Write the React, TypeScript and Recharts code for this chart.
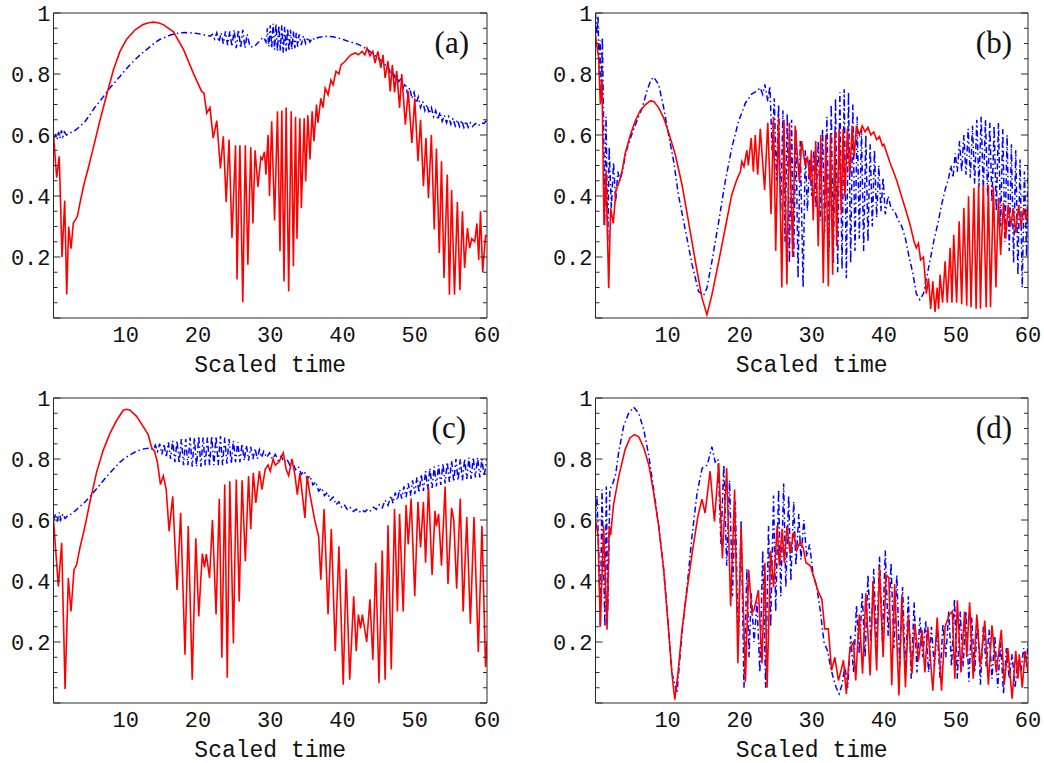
import { LineChart, Line, XAxis, YAxis } from 'recharts';

type Pt = [number, number];

// axis ticks
const xLabelTicks = [10, 20, 30, 40, 50, 60];
const xFrameTicks = [0, 2, 4, 6, 8, 10, 12, 14, 16, 18, 20, 22, 24, 26, 28, 30, 32, 34, 36, 38, 40, 42, 44, 46, 48, 50, 52, 54, 56, 58, 60];
const yLabelTicks = [0.2, 0.4, 0.6, 0.8, 1];
const yFrameTicks = [0, 0.05, 0.1, 0.15, 0.2, 0.25, 0.3, 0.35, 0.4, 0.45, 0.5, 0.55, 0.6, 0.65, 0.7, 0.75, 0.8, 0.85, 0.9, 0.95, 1];

// panel (a)
const redA: Pt[] = [
  [0, 0.6], [0.44, 0.46], [0.8, 0.53], [1.18, 0.2], [1.55, 0.385], [1.83, 0.077], [2.1, 0.3], [2.42, 0.227], [2.74, 0.311],
  [3.3, 0.333], [3.76, 0.388], [4.2, 0.437], [4.8, 0.49], [5.5, 0.557], [6.4, 0.645], [7.36, 0.732], [8.3, 0.814], [9.2, 0.874],
  [10.1, 0.913], [11.3, 0.945], [12.4, 0.962], [13.2, 0.968], [13.8, 0.97], [14.5, 0.968], [15.2, 0.962], [16.6, 0.938],
  [18.0, 0.88], [19.35, 0.803], [20.5, 0.743], [20.83, 0.738], [21.2, 0.672], [21.66, 0.69], [22.1, 0.59], [22.6, 0.647],
  [23.1, 0.49], [23.5, 0.596], [23.9, 0.38], [24.3, 0.585], [24.7, 0.262], [25.2, 0.566], [25.4, 0.126], [25.8, 0.566],
  [26.2, 0.052], [26.55, 0.566], [26.9, 0.175], [27.3, 0.56], [27.6, 0.31], [27.9, 0.55], [28.3, 0.43], [28.7, 0.527],
  [28.9, 0.52], [29.2, 0.545], [29.4, 0.47], [29.7, 0.6], [29.9, 0.4], [30.2, 0.645], [30.6, 0.32], [31.0, 0.678],
  [31.35, 0.219], [31.6, 0.68], [31.9, 0.12], [32.2, 0.69], [32.55, 0.087], [32.9, 0.678], [33.2, 0.17], [33.5, 0.66],
  [33.7, 0.26], [34.1, 0.655], [34.3, 0.36], [34.7, 0.655], [34.9, 0.448], [35.2, 0.665], [35.5, 0.52], [35.8, 0.678],
  [36.05, 0.58], [36.4, 0.7], [36.6, 0.64], [37.0, 0.72], [37.3, 0.69], [37.6, 0.754], [38.0, 0.732], [38.4, 0.78],
  [38.7, 0.765], [39.1, 0.809], [39.5, 0.8], [39.8, 0.83], [40.3, 0.84], [40.8, 0.854], [41.2, 0.863], [41.8, 0.869],
  [42.2, 0.863], [42.7, 0.874], [43.1, 0.863], [43.4, 0.885], [43.8, 0.86], [44.2, 0.874], [44.5, 0.836], [44.9, 0.874],
  [45.3, 0.82], [45.6, 0.863], [45.9, 0.787], [46.3, 0.842], [46.6, 0.743], [46.9, 0.83], [47.2, 0.74], [47.5, 0.81],
  [47.9, 0.689], [48.2, 0.8], [48.7, 0.634], [49.1, 0.743], [49.6, 0.574], [50.0, 0.72], [50.45, 0.514], [50.8, 0.65],
  [51.2, 0.432], [51.55, 0.59], [51.9, 0.393], [52.3, 0.6], [52.7, 0.29], [53.0, 0.556], [53.4, 0.213], [53.7, 0.514],
  [54.05, 0.131], [54.5, 0.47], [54.8, 0.076], [55.1, 0.42], [55.5, 0.076], [55.9, 0.38], [56.25, 0.091], [56.6, 0.35],
  [56.9, 0.164], [57.3, 0.295], [57.6, 0.229], [57.9, 0.26], [58.3, 0.25], [58.6, 0.31], [58.85, 0.19], [59.1, 0.35],
  [59.4, 0.15], [59.8, 0.27], [60, 0.27],
];
const blueA: Pt[] = [
  [0, 0.59], [0.3, 0.6], [0.5, 0.585], [0.7, 0.61], [0.9, 0.59], [1.1, 0.615], [1.3, 0.595], [1.5, 0.61], [1.8, 0.6],
  [2.28, 0.607], [3.0, 0.615], [3.67, 0.628], [4.4, 0.645], [5.05, 0.667], [5.7, 0.69], [6.4, 0.71], [7.1, 0.732],
  [7.8, 0.754], [8.5, 0.773], [9.2, 0.792], [9.9, 0.812], [10.6, 0.83], [11.3, 0.847], [12.0, 0.863], [12.7, 0.877],
  [13.4, 0.89], [14.0, 0.902], [14.7, 0.913], [15.4, 0.92], [16.1, 0.927], [16.8, 0.932], [17.5, 0.935], [18.2, 0.936],
  [18.9, 0.935], [19.6, 0.934], [20.3, 0.931], [21.0, 0.928], [21.7, 0.924], [22.0, 0.93], [22.3, 0.915], [22.6, 0.935],
  [22.9, 0.905], [23.2, 0.935], [23.5, 0.9], [23.8, 0.94], [24.1, 0.895], [24.4, 0.94], [24.7, 0.89], [25.0, 0.945],
  [25.3, 0.885], [25.6, 0.945], [25.9, 0.885], [26.2, 0.945], [26.5, 0.885], [26.8, 0.93], [27.2, 0.89], [27.6, 0.888],
  [28.0, 0.895], [28.4, 0.905], [28.8, 0.915], [29.1, 0.92], [29.4, 0.905], [29.6, 0.95], [29.8, 0.89], [30.0, 0.96],
  [30.2, 0.885], [30.4, 0.965], [30.6, 0.88], [30.8, 0.965], [31.0, 0.875], [31.2, 0.96], [31.4, 0.875], [31.6, 0.96],
  [31.8, 0.87], [32.0, 0.955], [32.2, 0.875], [32.4, 0.95], [32.6, 0.875], [32.8, 0.945], [33.0, 0.88], [33.2, 0.94],
  [33.4, 0.885], [33.6, 0.935], [33.8, 0.89], [34.0, 0.93], [34.3, 0.895], [34.6, 0.925], [34.9, 0.9], [35.2, 0.92],
  [35.5, 0.905], [35.8, 0.918], [36.2, 0.912], [36.6, 0.92], [37.3, 0.922], [38.0, 0.924], [38.7, 0.922], [39.4, 0.918],
  [40.1, 0.913], [40.8, 0.907], [41.5, 0.902], [42.1, 0.898], [42.8, 0.89], [43.5, 0.88], [44.2, 0.866], [44.9, 0.852],
  [45.3, 0.845], [45.6, 0.84], [45.9, 0.83], [46.3, 0.825], [46.6, 0.805], [46.9, 0.815], [47.2, 0.79], [47.5, 0.8],
  [47.8, 0.775], [48.1, 0.785], [48.4, 0.755], [48.7, 0.77], [49.0, 0.735], [49.3, 0.755], [49.6, 0.72], [49.9, 0.74],
  [50.2, 0.705], [50.5, 0.725], [50.8, 0.69], [51.1, 0.71], [51.4, 0.68], [51.7, 0.7], [52.0, 0.67], [52.3, 0.69],
  [52.6, 0.66], [52.9, 0.68], [53.2, 0.65], [53.5, 0.675], [53.8, 0.645], [54.1, 0.665], [54.4, 0.64], [54.7, 0.66],
  [55.0, 0.635], [55.3, 0.655], [55.6, 0.63], [55.9, 0.65], [56.2, 0.628], [56.5, 0.648], [56.8, 0.625], [57.1, 0.645],
  [57.4, 0.625], [57.7, 0.64], [58.0, 0.628], [58.4, 0.638], [58.8, 0.63], [59.2, 0.64], [59.6, 0.638], [60, 0.65],
];

// panel (b)
const redB: Pt[] = [
  [0, 0.93], [0.07, 0.913], [0.44, 0.852], [0.67, 0.7], [0.9, 0.78], [1.18, 0.306], [1.46, 0.481], [1.83, 0.098],
  [2.1, 0.36], [2.47, 0.31], [2.84, 0.42], [3.2, 0.44], [3.67, 0.48], [4.13, 0.54], [4.83, 0.6], [5.5, 0.645],
  [6.2, 0.68], [6.9, 0.699], [7.6, 0.712], [8.1, 0.71], [8.77, 0.689], [9.46, 0.656], [10.15, 0.607], [11.07, 0.536],
  [12.0, 0.437], [12.9, 0.317], [13.85, 0.186], [14.77, 0.066], [15.46, 0.011], [16.15, 0.076], [17.1, 0.186],
  [18.0, 0.295], [18.9, 0.404], [19.6, 0.453], [20.1, 0.48], [20.3, 0.513], [20.6, 0.496], [21.0, 0.55], [21.2, 0.5],
  [21.6, 0.59], [21.9, 0.48], [22.16, 0.6], [22.5, 0.47], [22.86, 0.62], [23.46, 0.42], [23.9, 0.64], [24.35, 0.34],
  [24.7, 0.66], [25.0, 0.22], [25.4, 0.66], [25.85, 0.1], [26.15, 0.65], [26.55, 0.11], [26.9, 0.64], [27.35, 0.2],
  [27.7, 0.63], [28.27, 0.45], [28.6, 0.58], [29.1, 0.5], [29.4, 0.53], [29.75, 0.45], [29.95, 0.55], [30.2, 0.32],
  [30.55, 0.58], [30.9, 0.235], [31.25, 0.6], [31.6, 0.115], [31.95, 0.6], [32.3, 0.104], [32.6, 0.6], [32.9, 0.142],
  [33.2, 0.61], [33.45, 0.235], [33.8, 0.62], [34.1, 0.34], [34.35, 0.62], [34.6, 0.4], [34.95, 0.62], [35.3, 0.47],
  [35.6, 0.63], [35.9, 0.53], [36.2, 0.63], [36.6, 0.6], [37.0, 0.63], [37.4, 0.61], [37.8, 0.625], [38.2, 0.6],
  [38.6, 0.61], [39.0, 0.585], [39.4, 0.595], [39.8, 0.565], [40.0, 0.57], [40.85, 0.51], [41.8, 0.45], [42.7, 0.38],
  [43.6, 0.31], [44.2, 0.25], [44.5, 0.23], [44.8, 0.245], [45.1, 0.19], [45.5, 0.2], [45.9, 0.08], [46.2, 0.13],
  [46.5, 0.03], [46.8, 0.12], [47.1, 0.02], [47.4, 0.1], [47.6, 0.03], [47.8, 0.142], [48.15, 0.05], [48.5, 0.186],
  [48.8, 0.05], [49.2, 0.23], [49.45, 0.05], [49.7, 0.273], [50.1, 0.05], [50.45, 0.317], [50.8, 0.045], [51.1, 0.361],
  [51.5, 0.04], [51.75, 0.399], [52.1, 0.035], [52.5, 0.426], [52.8, 0.03], [53.15, 0.437], [53.4, 0.03], [53.8, 0.437],
  [54.2, 0.035], [54.5, 0.437], [54.8, 0.035], [55.2, 0.43], [55.55, 0.1], [55.9, 0.394], [56.2, 0.207], [56.6, 0.377],
  [56.9, 0.26], [57.25, 0.37], [57.6, 0.3], [57.95, 0.36], [58.3, 0.28], [58.7, 0.37], [59.05, 0.3], [59.4, 0.36],
  [59.8, 0.32], [60, 0.37],
];
const blueB: Pt[] = [
  [0, 1.0], [0.2, 0.93], [0.35, 0.99], [0.5, 0.8], [0.65, 0.91], [0.8, 0.72], [0.95, 0.92], [1.1, 0.69], [1.27, 0.3],
  [1.46, 0.66], [1.7, 0.25], [1.9, 0.56], [2.2, 0.36], [2.5, 0.51], [2.8, 0.38], [3.1, 0.48], [3.4, 0.45], [3.8, 0.49],
  [4.3, 0.55], [5.0, 0.6], [5.8, 0.65], [6.5, 0.69], [7.2, 0.75], [7.7, 0.78], [8.07, 0.79], [8.77, 0.765], [9.46, 0.689],
  [10.15, 0.6], [10.85, 0.513], [11.5, 0.404], [12.5, 0.284], [13.4, 0.175], [14.3, 0.087], [15.0, 0.074], [15.46, 0.098],
  [16.15, 0.186], [17.1, 0.317], [18.0, 0.448], [18.9, 0.557], [19.85, 0.645], [20.8, 0.705], [21.7, 0.735], [22.4, 0.744],
  [22.85, 0.755], [23.2, 0.733], [23.5, 0.766], [23.9, 0.71], [24.2, 0.76], [24.5, 0.55], [24.8, 0.72], [25.1, 0.45],
  [25.4, 0.7], [25.7, 0.35], [26.0, 0.68], [26.3, 0.25], [26.6, 0.67], [26.9, 0.18], [27.2, 0.65], [27.5, 0.2],
  [27.8, 0.62], [28.1, 0.13], [28.4, 0.58], [28.8, 0.1], [29.1, 0.55], [29.4, 0.35], [29.7, 0.52], [30.0, 0.4],
  [30.3, 0.55], [30.6, 0.36], [30.9, 0.58], [31.2, 0.32], [31.5, 0.62], [31.8, 0.28], [32.1, 0.66], [32.4, 0.22],
  [32.7, 0.7], [33.0, 0.18], [33.3, 0.72], [33.6, 0.15], [33.9, 0.74], [34.2, 0.16], [34.5, 0.75], [34.8, 0.13],
  [35.1, 0.74], [35.4, 0.18], [35.7, 0.7], [36.0, 0.22], [36.3, 0.66], [36.6, 0.26], [36.9, 0.62], [37.2, 0.22],
  [37.5, 0.6], [37.8, 0.25], [38.1, 0.57], [38.4, 0.3], [38.7, 0.55], [39.0, 0.33], [39.3, 0.5], [39.6, 0.35],
  [39.9, 0.46], [40.2, 0.34], [40.6, 0.4], [41.0, 0.36], [41.5, 0.35], [42.0, 0.32], [42.5, 0.3], [43.0, 0.26],
  [43.5, 0.2], [44.0, 0.15], [44.5, 0.08], [45.0, 0.06], [45.5, 0.08], [46.0, 0.14], [46.5, 0.2], [47.0, 0.26],
  [47.5, 0.31], [48.0, 0.37], [48.5, 0.42], [49.0, 0.46], [49.3, 0.5], [49.6, 0.46], [49.9, 0.54], [50.2, 0.48],
  [50.5, 0.58], [50.8, 0.48], [51.1, 0.6], [51.4, 0.47], [51.7, 0.62], [52.0, 0.46], [52.3, 0.63], [52.6, 0.44],
  [52.9, 0.65], [53.2, 0.43], [53.5, 0.66], [53.8, 0.42], [54.1, 0.65], [54.4, 0.4], [54.7, 0.64], [55.0, 0.38],
  [55.3, 0.63], [55.6, 0.35], [55.9, 0.64], [56.2, 0.3], [56.5, 0.62], [56.8, 0.25], [57.1, 0.6], [57.4, 0.22],
  [57.7, 0.57], [58.0, 0.18], [58.3, 0.55], [58.6, 0.14], [58.9, 0.52], [59.2, 0.1], [59.5, 0.48], [59.8, 0.2], [60, 0.5],
];

// panel (c)
const redC: Pt[] = [
  [0, 0.6], [0.67, 0.382], [1.13, 0.525], [1.6, 0.046], [2.05, 0.41], [2.42, 0.3], [2.84, 0.437], [3.2, 0.453],
  [3.67, 0.51], [4.36, 0.58], [5.05, 0.66], [5.97, 0.757], [6.9, 0.83], [7.8, 0.883], [8.75, 0.927], [9.66, 0.96],
  [10.1, 0.963], [10.6, 0.96], [11.5, 0.94], [12.4, 0.907], [13.1, 0.88], [13.6, 0.836], [14.0, 0.825], [14.4, 0.787],
  [14.8, 0.716], [15.2, 0.745], [15.6, 0.7], [16.0, 0.563], [16.5, 0.678], [17.1, 0.371], [17.6, 0.624], [18.2, 0.158],
  [18.65, 0.58], [19.2, 0.076], [19.7, 0.54], [20.1, 0.284], [20.6, 0.49], [20.9, 0.445], [21.15, 0.488], [21.6, 0.41],
  [22.0, 0.6], [22.5, 0.29], [22.95, 0.67], [23.3, 0.148], [23.7, 0.716], [24.05, 0.083], [24.4, 0.727], [24.9, 0.196],
  [25.3, 0.733], [25.7, 0.333], [26.1, 0.73], [26.55, 0.465], [27.0, 0.744], [27.3, 0.57], [27.65, 0.755], [28.0, 0.656],
  [28.5, 0.76], [28.85, 0.7], [29.3, 0.766], [29.7, 0.78], [30.0, 0.76], [30.4, 0.8], [30.7, 0.78], [31.2, 0.79],
  [31.8, 0.82], [32.2, 0.766], [32.55, 0.745], [33.0, 0.8], [33.4, 0.75], [33.75, 0.683], [34.1, 0.754], [34.8, 0.607],
  [35.1, 0.745], [35.45, 0.69], [36.15, 0.6], [36.7, 0.546], [37.0, 0.404], [37.45, 0.636], [38.0, 0.29], [38.45, 0.57],
  [39.0, 0.17], [39.5, 0.514], [40.1, 0.06], [40.5, 0.44], [41.0, 0.076], [41.55, 0.35], [41.9, 0.17], [42.2, 0.29],
  [42.5, 0.245], [42.75, 0.29], [43.35, 0.2], [43.8, 0.34], [44.2, 0.142], [44.6, 0.46], [45.05, 0.065], [45.5, 0.5],
  [45.9, 0.076], [46.3, 0.583], [46.75, 0.11], [47.2, 0.636], [47.6, 0.3], [47.9, 0.62], [48.4, 0.3], [48.8, 0.65],
  [49.1, 0.52], [49.5, 0.67], [50.0, 0.35], [50.45, 0.66], [50.8, 0.51], [51.2, 0.66], [51.5, 0.46], [51.9, 0.71],
  [52.4, 0.42], [52.8, 0.63], [53.0, 0.58], [53.3, 0.62], [53.7, 0.45], [54.2, 0.71], [54.6, 0.39], [55.1, 0.64],
  [55.4, 0.6], [55.8, 0.375], [56.3, 0.67], [56.7, 0.3], [57.2, 0.61], [57.7, 0.26], [58.2, 0.61], [58.8, 0.167],
  [59.3, 0.58], [59.8, 0.118], [60, 0.2],
];
const blueC: Pt[] = [
  [0, 0.6], [0.3, 0.62], [0.5, 0.595], [0.8, 0.625], [1.0, 0.6], [1.3, 0.62], [1.6, 0.605], [2.0, 0.615], [2.3, 0.617],
  [3.0, 0.63], [3.67, 0.645], [4.4, 0.66], [5.05, 0.677], [5.7, 0.695], [6.4, 0.715], [7.1, 0.735], [7.8, 0.754],
  [8.5, 0.772], [9.2, 0.79], [9.9, 0.803], [10.6, 0.814], [11.3, 0.823], [12.0, 0.83], [12.7, 0.834], [13.4, 0.836],
  [13.8, 0.83], [14.1, 0.845], [14.4, 0.825], [14.7, 0.85], [15.0, 0.815], [15.3, 0.85], [15.6, 0.805], [15.9, 0.855],
  [16.2, 0.8], [16.5, 0.86], [16.8, 0.79], [17.1, 0.86], [17.4, 0.785], [17.7, 0.865], [18.0, 0.78], [18.3, 0.865],
  [18.6, 0.78], [18.9, 0.87], [19.2, 0.775], [19.5, 0.87], [19.8, 0.775], [20.1, 0.875], [20.4, 0.775], [20.7, 0.87],
  [21.0, 0.78], [21.3, 0.87], [21.6, 0.78], [21.9, 0.875], [22.2, 0.78], [22.5, 0.875], [22.8, 0.78], [23.1, 0.875],
  [23.4, 0.78], [23.7, 0.87], [24.0, 0.785], [24.3, 0.865], [24.6, 0.785], [24.9, 0.86], [25.2, 0.79], [25.5, 0.855],
  [25.8, 0.79], [26.1, 0.85], [26.4, 0.795], [26.7, 0.845], [27.0, 0.795], [27.3, 0.84], [27.6, 0.8], [27.9, 0.835],
  [28.2, 0.8], [28.5, 0.83], [28.8, 0.805], [29.1, 0.825], [29.5, 0.805], [29.9, 0.82], [30.3, 0.8], [30.7, 0.815],
  [31.1, 0.795], [31.5, 0.81], [31.9, 0.79], [32.3, 0.8], [32.7, 0.78], [33.1, 0.79], [33.5, 0.765], [33.9, 0.775],
  [34.3, 0.75], [34.7, 0.76], [35.1, 0.735], [35.5, 0.745], [35.9, 0.715], [36.3, 0.725], [36.7, 0.695], [37.1, 0.705],
  [37.5, 0.68], [37.9, 0.69], [38.3, 0.665], [38.7, 0.675], [39.1, 0.65], [39.5, 0.66], [39.9, 0.64], [40.3, 0.648],
  [40.7, 0.633], [41.1, 0.64], [41.5, 0.628], [41.9, 0.635], [42.3, 0.625], [42.7, 0.633], [43.1, 0.627], [43.5, 0.636],
  [43.9, 0.63], [44.3, 0.642], [44.7, 0.635], [45.1, 0.65], [45.5, 0.64], [45.9, 0.665], [46.3, 0.648], [46.7, 0.68],
  [47.0, 0.655], [47.3, 0.69], [47.6, 0.665], [47.9, 0.7], [48.2, 0.67], [48.5, 0.71], [48.8, 0.675], [49.1, 0.72],
  [49.4, 0.68], [49.7, 0.73], [50.0, 0.685], [50.3, 0.74], [50.6, 0.69], [50.9, 0.75], [51.2, 0.695], [51.5, 0.76],
  [51.8, 0.7], [52.1, 0.77], [52.4, 0.705], [52.7, 0.775], [53.0, 0.71], [53.3, 0.78], [53.6, 0.715], [53.9, 0.785],
  [54.2, 0.72], [54.5, 0.79], [54.8, 0.725], [55.1, 0.795], [55.4, 0.725], [55.7, 0.8], [56.0, 0.73], [56.3, 0.8],
  [56.6, 0.73], [56.9, 0.8], [57.2, 0.735], [57.5, 0.805], [57.8, 0.735], [58.1, 0.805], [58.4, 0.74], [58.7, 0.805],
  [59.0, 0.74], [59.3, 0.8], [59.6, 0.745], [60, 0.8],
];

// panel (d)
const redD: Pt[] = [
  [0, 0.6], [0.35, 0.55], [0.67, 0.25], [1.13, 0.58], [1.6, 0.24], [1.9, 0.58], [2.1, 0.55], [2.5, 0.65], [3.2, 0.74],
  [4.1, 0.83], [4.8, 0.87], [5.4, 0.88], [6.0, 0.873], [6.7, 0.836], [7.4, 0.78], [8.07, 0.689], [8.77, 0.579],
  [9.46, 0.437], [10.06, 0.262], [10.6, 0.098], [11.0, 0.011], [11.45, 0.098], [12.0, 0.24], [12.7, 0.371], [13.4, 0.49],
  [14.2, 0.612], [14.77, 0.668], [15.2, 0.623], [15.9, 0.76], [16.5, 0.595], [17.1, 0.787], [17.6, 0.475], [18.2, 0.77],
  [18.75, 0.317], [19.3, 0.7], [19.75, 0.13], [20.2, 0.58], [20.8, 0.07], [21.25, 0.437], [21.7, 0.295], [22.0, 0.306],
  [22.6, 0.37], [23.1, 0.13], [23.5, 0.46], [23.8, 0.05], [24.3, 0.5], [24.7, 0.38], [25.2, 0.58], [25.5, 0.45],
  [25.9, 0.57], [26.2, 0.46], [26.56, 0.58], [27.0, 0.49], [27.5, 0.56], [27.9, 0.5], [28.4, 0.53], [28.8, 0.51],
  [29.2, 0.46], [29.8, 0.45], [30.4, 0.404], [30.9, 0.365], [31.4, 0.34], [31.8, 0.243], [32.3, 0.243], [32.75, 0.107],
  [33.2, 0.15], [33.7, 0.074], [34.1, 0.11], [34.4, 0.14], [34.8, 0.03], [35.3, 0.18], [35.8, 0.2], [36.1, 0.074],
  [36.6, 0.29], [37.05, 0.096], [37.5, 0.36], [38.1, 0.09], [38.5, 0.4], [39.0, 0.107], [39.4, 0.446], [39.9, 0.15],
  [40.3, 0.42], [40.7, 0.41], [41.1, 0.058], [41.5, 0.39], [42.1, 0.025], [42.5, 0.353], [43.0, 0.052], [43.4, 0.29],
  [43.9, 0.096], [44.3, 0.26], [44.8, 0.14], [45.3, 0.24], [45.7, 0.1], [46.1, 0.25], [46.8, 0.04], [47.4, 0.28],
  [48.0, 0.04], [48.5, 0.25], [49.1, 0.29], [49.5, 0.3], [49.85, 0.08], [50.2, 0.337], [50.7, 0.1], [51.2, 0.3],
  [51.5, 0.15], [51.9, 0.33], [52.4, 0.08], [52.9, 0.29], [53.4, 0.12], [54.0, 0.27], [54.5, 0.06], [55.0, 0.255],
  [55.6, 0.1], [56.3, 0.24], [56.7, 0.06], [57.2, 0.18], [57.8, 0.014], [58.3, 0.17], [58.6, 0.08], [58.8, 0.16],
  [59.2, 0.05], [59.6, 0.17], [60, 0.1],
];
const blueD: Pt[] = [
  [0, 0.6], [0.2, 0.68], [0.45, 0.5], [0.67, 0.25], [0.9, 0.7], [1.3, 0.25], [1.5, 0.71], [1.7, 0.3], [2.0, 0.7],
  [2.4, 0.72], [2.8, 0.75], [3.2, 0.82], [3.9, 0.907], [4.6, 0.95], [5.3, 0.97], [6.0, 0.95], [6.7, 0.896], [7.4, 0.81],
  [8.07, 0.7], [8.77, 0.58], [9.46, 0.437], [10.06, 0.265], [10.6, 0.1], [11.3, 0.032], [12.0, 0.23], [12.7, 0.38],
  [13.4, 0.55], [14.1, 0.69], [14.8, 0.77], [15.5, 0.78], [16.15, 0.84], [16.6, 0.79], [17.0, 0.8], [17.4, 0.52],
  [17.8, 0.78], [18.2, 0.45], [18.6, 0.73], [19.0, 0.35], [19.4, 0.66], [19.8, 0.18], [20.2, 0.6], [20.6, 0.05],
  [21.0, 0.44], [21.3, 0.15], [21.6, 0.36], [22.0, 0.2], [22.4, 0.33], [22.8, 0.1], [23.2, 0.5], [23.6, 0.05],
  [24.0, 0.58], [24.3, 0.25], [24.7, 0.68], [25.0, 0.3], [25.4, 0.7], [25.7, 0.35], [26.1, 0.72], [26.4, 0.38],
  [26.8, 0.68], [27.1, 0.4], [27.5, 0.66], [27.8, 0.45], [28.2, 0.62], [28.5, 0.47], [28.9, 0.6], [29.3, 0.48],
  [29.7, 0.52], [30.2, 0.42], [30.7, 0.38], [31.2, 0.3], [31.7, 0.2], [32.2, 0.17], [32.6, 0.12], [33.0, 0.08],
  [33.4, 0.05], [33.8, 0.03], [34.2, 0.06], [34.6, 0.12], [35.0, 0.05], [35.4, 0.22], [35.8, 0.1], [36.2, 0.32],
  [36.6, 0.16], [37.0, 0.36], [37.4, 0.15], [37.8, 0.42], [38.2, 0.2], [38.6, 0.44], [39.0, 0.18], [39.4, 0.48],
  [39.8, 0.2], [40.2, 0.5], [40.6, 0.22], [41.0, 0.46], [41.4, 0.18], [41.8, 0.42], [42.2, 0.12], [42.6, 0.38],
  [43.0, 0.1], [43.4, 0.35], [43.8, 0.08], [44.2, 0.33], [44.6, 0.1], [45.0, 0.28], [45.4, 0.15], [45.8, 0.27],
  [46.2, 0.1], [46.6, 0.25], [47.0, 0.12], [47.4, 0.24], [47.8, 0.08], [48.2, 0.26], [48.6, 0.15], [49.0, 0.3],
  [49.4, 0.12], [49.8, 0.34], [50.2, 0.08], [50.6, 0.3], [51.0, 0.12], [51.4, 0.3], [51.8, 0.07], [52.2, 0.28],
  [52.6, 0.1], [53.0, 0.27], [53.4, 0.06], [53.8, 0.25], [54.2, 0.12], [54.6, 0.24], [55.0, 0.08], [55.4, 0.22],
  [55.8, 0.05], [56.2, 0.2], [56.6, 0.03], [57.0, 0.18], [57.4, 0.08], [57.8, 0.16], [58.2, 0.05], [58.6, 0.14],
  [59.0, 0.1], [59.4, 0.18], [59.8, 0.12], [60, 0.2],
];

const toRows = (pts: Pt[]) => pts.map(([t, v]) => ({ t, v }));
const fmtY = (v: number) => (v === 1 ? '1' : v.toFixed(1));

const frameColor = '#2a2a2a';
const frame = { stroke: frameColor, strokeWidth: 1 };
const mono = '"Liberation Mono", "DejaVu Sans Mono", monospace';
const tickFont = { fontFamily: mono, fontSize: 22, fill: '#111' };

// inward tick marks on the frame: long at labelled values, short between
type Side = 'top' | 'bottom' | 'left' | 'right';
const frameTick = (side: Side) => (props: any) => {
  const { x, y, payload } = props;
  const v = payload.value as number;
  const major = side === 'top' || side === 'bottom' ? v % 10 === 0 : Math.abs(v * 5 - Math.round(v * 5)) < 1e-6;
  const len = major ? 7 : 4;
  const dx = side === 'left' ? len : side === 'right' ? -len : 0;
  const dy = side === 'top' ? len : side === 'bottom' ? -len : 0;
  return <line x1={x} y1={y} x2={x + dx} y2={y + dy} stroke={frameColor} strokeWidth={1} />;
};

type PanelProps = {
  red: Pt[];
  blue: Pt[];
  tag: string;
  left: number;
  top: number;
  width: number;
  height: number;
  yWidth: number;
  rightPad: number;
  axisHeight: number;
  labelOffset: number;
  tagX: number;
};

function Panel({ red, blue, tag, left, top, width, height, yWidth, rightPad, axisHeight, labelOffset, tagX }: PanelProps) {
  const dom: [number, number] = [0, 60];
  const ydom: [number, number] = [0, 1];
  return (
    <div style={{ position: 'absolute', left, top, width, height }}>
      <LineChart width={width} height={height} margin={{ top: 13, right: rightPad, bottom: 0, left: 0 }}>
        <XAxis
          xAxisId="t"
          dataKey="t"
          type="number"
          domain={dom}
          allowDataOverflow
          ticks={xLabelTicks}
          interval={0}
          tickSize={0}
          tickMargin={8}
          axisLine={false}
          tickLine={false}
          height={axisHeight}
          tick={tickFont}
          label={{ value: 'Scaled time', position: 'insideBottom', offset: labelOffset, fontFamily: mono, fontSize: 23, fill: '#111' }}
        />
        <XAxis xAxisId="fb" type="number" domain={dom} allowDataOverflow ticks={xFrameTicks} interval={0} mirror height={1} tickSize={0} tickMargin={0} axisLine={frame} tickLine={false} tick={frameTick('bottom')} />
        <XAxis xAxisId="ft" orientation="top" type="number" domain={dom} allowDataOverflow ticks={xFrameTicks} interval={0} mirror height={1} tickSize={0} tickMargin={0} axisLine={frame} tickLine={false} tick={frameTick('top')} />
        <YAxis
          yAxisId="v"
          type="number"
          domain={ydom}
          allowDataOverflow
          ticks={yLabelTicks}
          interval={0}
          width={yWidth}
          tickSize={0}
          tickMargin={3}
          axisLine={false}
          tickLine={false}
          tick={tickFont}
          tickFormatter={fmtY}
        />
        <YAxis yAxisId="fl" type="number" domain={ydom} allowDataOverflow ticks={yFrameTicks} interval={0} mirror width={1} tickSize={0} tickMargin={0} axisLine={frame} tickLine={false} tick={frameTick('left')} />
        <YAxis yAxisId="fr" orientation="right" type="number" domain={ydom} allowDataOverflow ticks={yFrameTicks} interval={0} mirror width={1} tickSize={0} tickMargin={0} axisLine={frame} tickLine={false} tick={frameTick('right')} />
        <Line
          xAxisId="t"
          yAxisId="v"
          data={toRows(blue)}
          dataKey="v"
          type="linear"
          stroke="#0000ff"
          strokeWidth={1.5}
          strokeDasharray="6 3 1.5 3"
          dot={false}
          activeDot={false}
          isAnimationActive={false}
        />
        <Line
          xAxisId="t"
          yAxisId="v"
          data={toRows(red)}
          dataKey="v"
          type="linear"
          stroke="#ff0000"
          strokeWidth={1.6}
          dot={false}
          activeDot={false}
          isAnimationActive={false}
        />
      </LineChart>
      <svg width={width} height={height} style={{ position: 'absolute', left: 0, top: 0, pointerEvents: 'none' }}>
        <text x={tagX} y={53} textAnchor="end" fontFamily='"Liberation Serif", "DejaVu Serif", serif' fontSize={31} fill="#111">
          {tag}
        </text>
      </svg>
    </div>
  );
}

export default function App() {
  return (
    <div style={{ position: 'absolute', left: 0, top: 0, width: 1044, height: 763, background: '#fff', overflow: 'hidden' }}>
      <Panel red={redA} blue={blueA} tag="(a)" left={0} top={0} width={500} height={380} yWidth={53.5} rightPad={13} axisHeight={62} labelOffset={8} tagX={469} />
      <Panel red={redB} blue={blueB} tag="(b)" left={540} top={0} width={504} height={380} yWidth={55.5} rightPad={16} axisHeight={62} labelOffset={8} tagX={472} />
      <Panel red={redC} blue={blueC} tag="(c)" left={0} top={385} width={500} height={378} yWidth={53.5} rightPad={13} axisHeight={60} labelOffset={6} tagX={466} />
      <Panel red={redD} blue={blueD} tag="(d)" left={540} top={385} width={504} height={378} yWidth={55.5} rightPad={16} axisHeight={60} labelOffset={6} tagX={472} />
    </div>
  );
}
